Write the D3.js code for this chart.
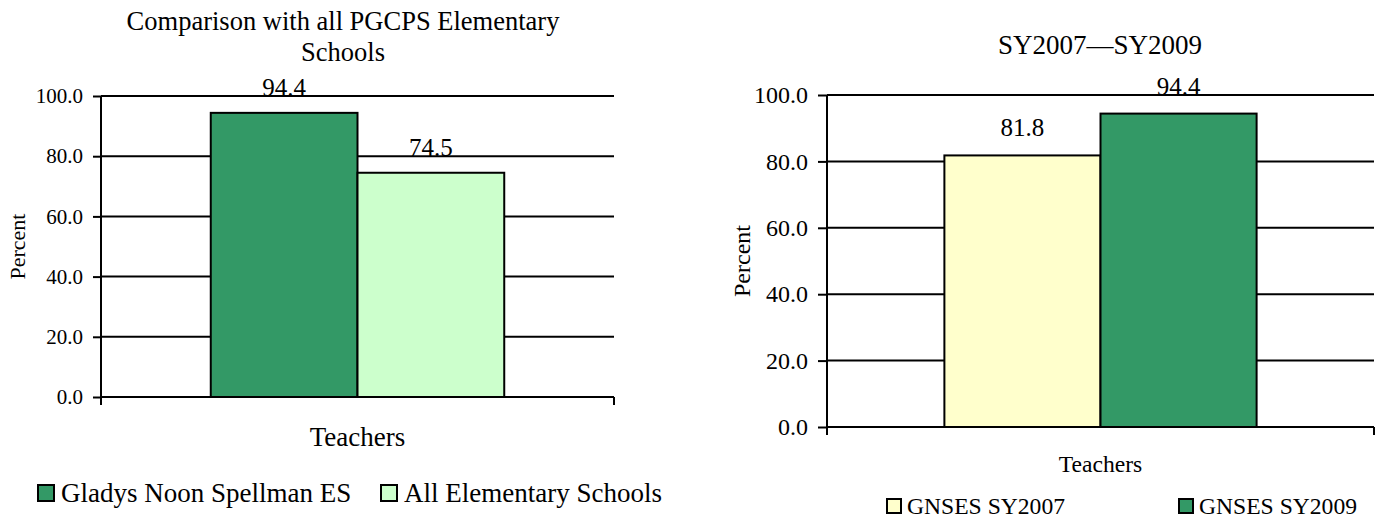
<!DOCTYPE html>
<html><head><meta charset="utf-8">
<script src="https://cdn.jsdelivr.net/npm/d3@7"></script>
<style>
html,body{margin:0;padding:0;background:#fff;}
svg text{font-family:"Liberation Serif","Times New Roman",serif;fill:#000;}
</style></head>
<body>
<svg id="c" width="1384" height="520"></svg>
<script>
// ---- data ----
const categories = ["Teachers"];
const yTicks = [0, 20, 40, 60, 80, 100];

const leftTitle = ["Comparison with all PGCPS Elementary", "Schools"];
const leftSeries = ["Gladys Noon Spellman ES", "All Elementary Schools"];
const leftValues = [94.4, 74.5];

const rightTitle = ["SY2007\u2014SY2009"];
const rightSeries = ["GNSES SY2007", "GNSES SY2009"];
const rightValues = [81.8, 94.4];

// ---- styles ----
const leftColors = ["#339966", "#CCFFCC"];
const rightColors = ["#FFFFCC", "#339966"];
const FONT = "'Liberation Serif', 'Times New Roman', serif";

const svg = d3.select("#c");

function txt(sel, size) {
  return sel.style("font-family", FONT).style("font-size", size + "px").attr("fill", "#000");
}

function drawChart(o) {
  const g = svg.append("g");
  const x0 = d3.scaleBand().domain(categories).range([o.x0, o.x1]).paddingInner(0).paddingOuter(o.padOuter);
  const x1 = d3.scaleBand().domain(o.series).range([0, x0.bandwidth()]).padding(0);
  const y = d3.scaleLinear().domain([0, 100]).range([o.y0, o.y1]);

  // gridlines
  g.selectAll("line.grid").data(yTicks.filter(t => t > 0)).join("line")
    .attr("x1", o.x0).attr("x2", o.x1)
    .attr("y1", d => y(d)).attr("y2", d => y(d))
    .attr("stroke", "#000").attr("stroke-width", 2);

  // bars
  const cat = categories[0];
  g.selectAll("rect.bar").data(o.values).join("rect")
    .attr("x", (d, i) => x0(cat) + x1(o.series[i]))
    .attr("y", d => y(d))
    .attr("width", x1.bandwidth())
    .attr("height", d => y(0) - y(d))
    .attr("fill", (d, i) => o.colors[i])
    .attr("stroke", "#000").attr("stroke-width", 2);

  // value labels
  txt(g.selectAll("text.val").data(o.values).join("text")
    .attr("x", (d, i) => x0(cat) + x1(o.series[i]) + x1.bandwidth() / 2)
    .attr("y", d => y(d) - o.valOffset)
    .attr("text-anchor", "middle"), o.valSize)
    .text(d => d.toFixed(1));

  // y axis
  const yAxis = d3.axisLeft(y).tickValues(yTicks).tickSize(o.tickLen).tickPadding(10).tickFormat(d3.format(".1f"));
  const ya = g.append("g").attr("transform", `translate(${o.x0},0)`).call(yAxis);
  ya.attr("font-size", null).attr("font-family", null);
  ya.select(".domain").remove();
  ya.selectAll(".tick line").attr("stroke", "#000").attr("stroke-width", 2);
  txt(ya.selectAll(".tick text"), o.tickSize);
  g.append("line").attr("x1", o.x0).attr("x2", o.x0).attr("y1", y(100)).attr("y2", y(0) + 8)
    .attr("stroke", "#000").attr("stroke-width", 2);

  // x axis
  g.append("line").attr("x1", o.x0).attr("x2", o.x1).attr("y1", y(0)).attr("y2", y(0))
    .attr("stroke", "#000").attr("stroke-width", 2);
  [o.x0, o.x1].forEach(xx => g.append("line").attr("x1", xx).attr("x2", xx)
    .attr("y1", y(0)).attr("y2", y(0) + 8).attr("stroke", "#000").attr("stroke-width", 2));

  // x category label
  txt(g.append("text").attr("x", x0(cat) + x0.bandwidth() / 2).attr("y", o.catY)
    .attr("text-anchor", "middle"), o.catSize).text(cat);

  // y title
  txt(g.append("text").attr("transform", `translate(${o.yTitleX},${(y(0) + y(100)) / 2}) rotate(-90)`)
    .attr("text-anchor", "middle"), o.yTitleSize).text("Percent");

  // title
  o.title.forEach((t, i) => txt(g.append("text").attr("x", o.titleX).attr("y", o.titleY + i * o.titleLH)
    .attr("text-anchor", "middle"), o.titleSize).text(t));

  // legend
  o.series.forEach((s, i) => {
    const lx = o.legendX[i];
    g.append("rect").attr("x", lx).attr("y", o.legendY - o.legSq - 1).attr("width", o.legSq).attr("height", o.legSq)
      .attr("fill", o.colors[i]).attr("stroke", "#000").attr("stroke-width", 2);
    txt(g.append("text").attr("x", lx + o.legSq + o.legGap).attr("y", o.legendY), o.legSize).text(s);
  });
}

drawChart({
  x0: 101, x1: 614, y0: 397, y1: 96, padOuter: 0.374, tickLen: 8,
  series: leftSeries, values: leftValues, colors: leftColors,
  valOffset: 17, valSize: 25, tickSize: 21,
  catY: 446, catSize: 27, yTitleX: 25, yTitleSize: 22,
  title: leftTitle, titleX: 343, titleY: 30, titleLH: 31, titleSize: 26.5,
  legendX: [38, 381], legendY: 502, legSq: 16, legGap: 7, legSize: 27
});

drawChart({
  x0: 827, x1: 1374, y0: 427, y1: 95, padOuter: 0.376, tickLen: 9,
  series: rightSeries, values: rightValues, colors: rightColors,
  valOffset: 19, valSize: 25, tickSize: 24,
  catY: 472, catSize: 23.6, yTitleX: 750, yTitleSize: 24,
  title: rightTitle, titleX: 1100, titleY: 54, titleLH: 30, titleSize: 27,
  legendX: [887, 1179], legendY: 514, legSq: 14, legGap: 6, legSize: 23.6
});
</script>
</body></html>
